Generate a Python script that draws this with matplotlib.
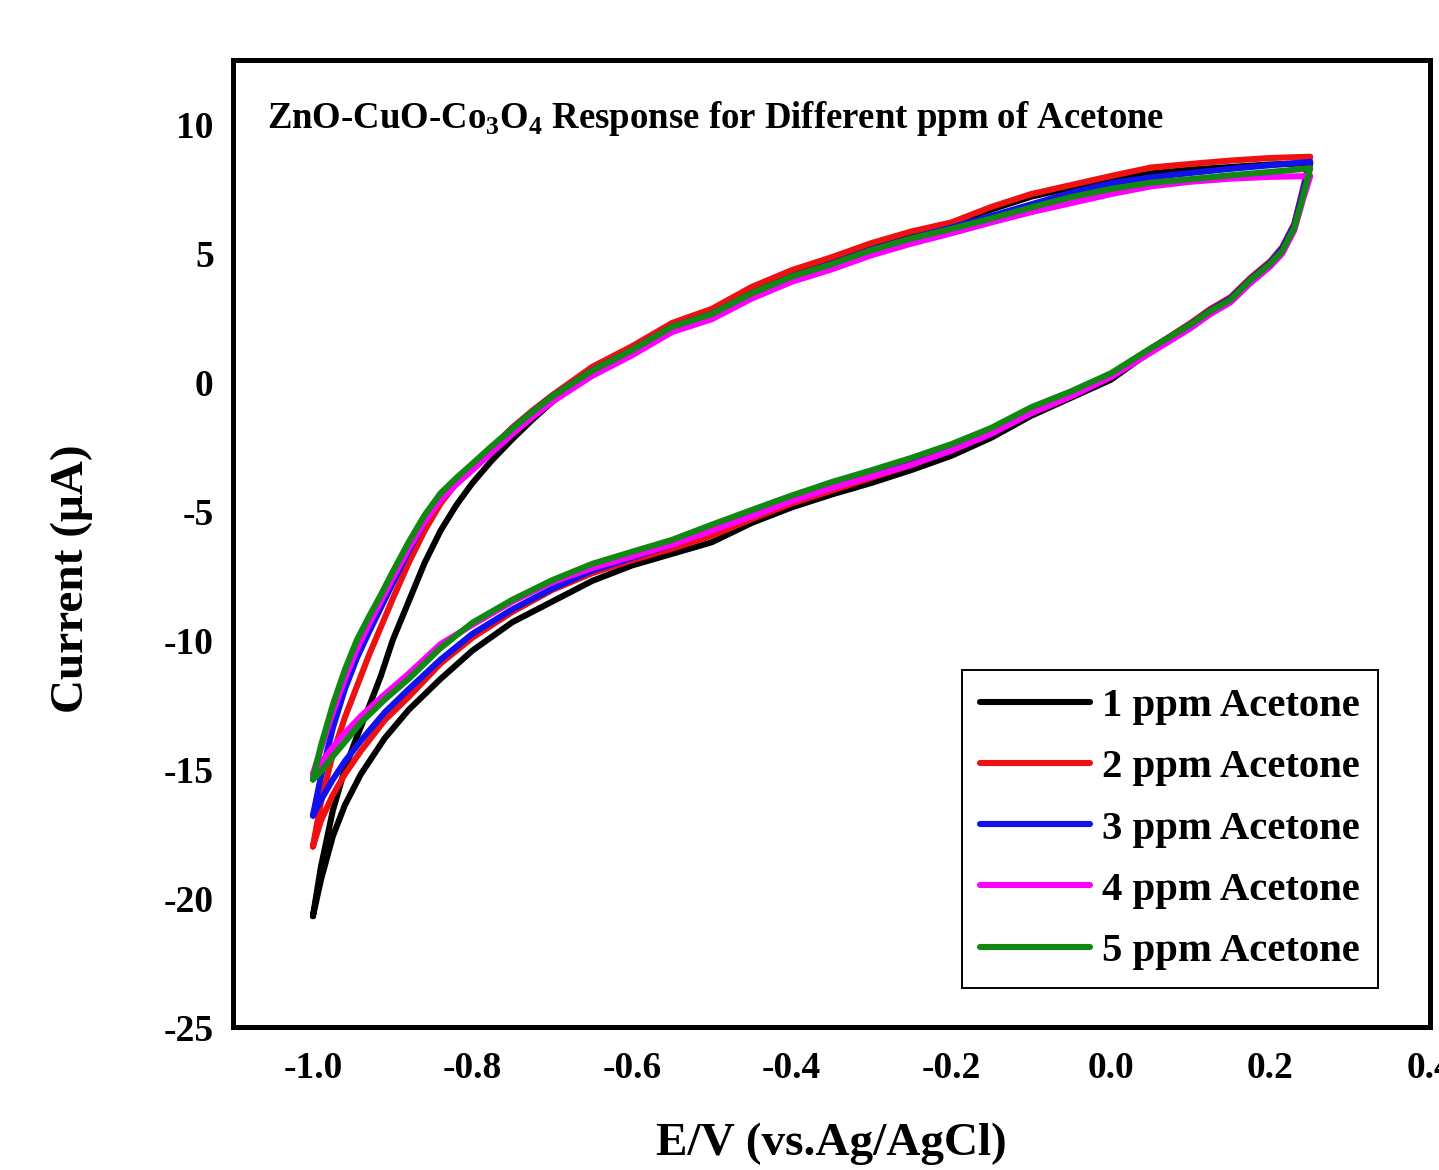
import numpy as np
import matplotlib
matplotlib.use("Agg")
import matplotlib.pyplot as plt

plt.rcParams['font.family'] = ['Liberation Serif', 'DejaVu Serif']
plt.rcParams['font.weight'] = 'bold'
plt.rcParams['axes.labelweight'] = 'bold'
plt.rcParams['mathtext.fontset'] = 'custom'
plt.rcParams['mathtext.rm'] = 'Liberation Serif:bold'
plt.rcParams['mathtext.bf'] = 'Liberation Serif:bold'

# potential grid, forward sweep (-1.0 -> 0.25 V) and reverse sweep (0.25 -> -1.0 V)
x_fwd = [-1.00, -0.99, -0.975, -0.96, -0.945, -0.93, -0.915, -0.90, -0.88, -0.86,
         -0.84, -0.82, -0.80, -0.775, -0.75, -0.725, -0.70, -0.65, -0.60, -0.55,
         -0.50, -0.45, -0.40, -0.35, -0.30, -0.25, -0.20, -0.15, -0.10, -0.05,
         0.00, 0.05, 0.10, 0.15, 0.20, 0.25]
x_rev = [0.25, 0.24, 0.23, 0.215, 0.20, 0.175, 0.15, 0.125, 0.10, 0.05,
         0.00, -0.05, -0.10, -0.15, -0.20, -0.25, -0.30, -0.35, -0.40, -0.45,
         -0.50, -0.55, -0.60, -0.65, -0.70, -0.75, -0.80, -0.84, -0.88, -0.91,
         -0.94, -0.96, -0.975, -0.99, -1.00]

# current (uA)
ppm1_fwd = [-20.7, -18.8, -16.6, -15.0, -13.75, -12.6, -11.4, -10.0, -8.5, -7.0,
            -5.75, -4.75, -3.9, -3.0, -2.2, -1.45, -0.75, 0.45, 1.35, 2.25,
            2.8, 3.65, 4.3, 4.8, 5.35, 5.8, 6.15, 6.7, 7.2, 7.55,
            7.85, 8.1, 8.25, 8.35, 8.45, 8.5]
ppm1_rev = [8.5, 7.3, 6.1, 5.2, 4.65, 3.95, 3.2, 2.75, 2.2, 1.2,
            0.1, -0.6, -1.3, -2.15, -2.85, -3.4, -3.9, -4.35, -4.85, -5.45,
            -6.2, -6.65, -7.1, -7.7, -8.5, -9.3, -10.4, -11.5, -12.7, -13.8,
            -15.2, -16.4, -17.6, -19.3, -20.7]

ppm2_fwd = [-18.0, -16.3, -14.4, -13.0, -11.8, -10.6, -9.5, -8.4, -7.0, -5.75,
            -4.7, -3.9, -3.25, -2.5, -1.75, -1.1, -0.5, 0.6, 1.4, 2.3,
            2.85, 3.7, 4.35, 4.85, 5.4, 5.85, 6.2, 6.8, 7.3, 7.65,
            8.0, 8.33, 8.47, 8.6, 8.7, 8.75]
ppm2_rev = [8.75, 7.4, 6.15, 5.25, 4.7, 4.05, 3.3, 2.85, 2.3, 1.3,
            0.3, -0.45, -1.1, -1.95, -2.6, -3.2, -3.7, -4.2, -4.7, -5.3,
            -5.95, -6.45, -6.9, -7.4, -8.05, -8.9, -9.9, -10.9, -12.2, -13.1,
            -14.3, -15.2, -16.0, -17.0, -18.0]

ppm3_fwd = [-16.8, -15.3, -13.4, -11.9, -10.7, -9.7, -8.75, -7.8, -6.55, -5.4,
            -4.45, -3.75, -3.2, -2.5, -1.8, -1.15, -0.55, 0.45, 1.25, 2.15,
            2.65, 3.45, 4.1, 4.6, 5.15, 5.6, 6.0, 6.45, 6.9, 7.35,
            7.72, 7.95, 8.12, 8.28, 8.42, 8.55]
ppm3_rev = [8.55, 7.3, 6.1, 5.2, 4.65, 4.0, 3.25, 2.8, 2.25, 1.3,
            0.3, -0.4, -1.05, -1.85, -2.5, -3.05, -3.55, -4.0, -4.5, -5.1,
            -5.7, -6.3, -6.8, -7.3, -8.0, -8.8, -9.75, -10.75, -11.9, -12.8,
            -13.9, -14.7, -15.4, -16.2, -16.8]

ppm4_fwd = [-15.2, -14.2, -12.8, -11.5, -10.35, -9.4, -8.5, -7.6, -6.45, -5.4,
            -4.55, -3.95, -3.4, -2.7, -2.0, -1.35, -0.75, 0.25, 1.05, 1.95,
            2.45, 3.25, 3.9, 4.38, 4.93, 5.38, 5.78, 6.2, 6.6, 6.95,
            7.3, 7.6, 7.78, 7.9, 7.97, 8.0]
ppm4_rev = [8.0, 7.0, 5.9, 5.0, 4.5, 3.85, 3.1, 2.65, 2.1, 1.15,
            0.2, -0.55, -1.2, -2.0, -2.65, -3.2, -3.65, -4.1, -4.6, -5.2,
            -5.75, -6.3, -6.75, -7.2, -7.75, -8.5, -9.4, -10.15, -11.3, -12.1,
            -12.95, -13.6, -14.15, -14.75, -15.2]

ppm5_fwd = [-15.4, -14.1, -12.5, -11.15, -10.0, -9.1, -8.25, -7.35, -6.2, -5.15,
            -4.3, -3.7, -3.15, -2.45, -1.8, -1.15, -0.55, 0.45, 1.25, 2.15,
            2.65, 3.45, 4.1, 4.58, 5.13, 5.58, 5.95, 6.35, 6.78, 7.18,
            7.5, 7.74, 7.88, 8.03, 8.16, 8.3]
ppm5_rev = [8.3, 7.1, 6.0, 5.1, 4.6, 3.97, 3.2, 2.77, 2.24, 1.32,
            0.35, -0.35, -0.97, -1.77, -2.4, -2.93, -3.41, -3.87, -4.39, -4.95,
            -5.52, -6.11, -6.57, -7.04, -7.67, -8.43, -9.32, -10.3, -11.5, -12.3,
            -13.2, -13.95, -14.5, -15.1, -15.4]

labels = ["1 ppm Acetone", "2 ppm Acetone", "3 ppm Acetone",
          "4 ppm Acetone", "5 ppm Acetone"]
colors = ["black", "#ee1111", "#1111ee", "#ff00ff", "#118811"]
curves = [(ppm1_fwd, ppm1_rev), (ppm2_fwd, ppm2_rev), (ppm3_fwd, ppm3_rev),
          (ppm4_fwd, ppm4_rev), (ppm5_fwd, ppm5_rev)]

fig = plt.figure(figsize=(14.39, 11.70), dpi=100)
ax = fig.add_axes([0.162, 0.1222, 0.8317, 0.8265])

x_all = np.concatenate([x_fwd, x_rev])
for (fwd, rev), lab, c in zip(curves, labels, colors):
    ax.plot(x_all, np.concatenate([fwd, rev]), color=c, lw=4.4, label=lab,
            solid_joinstyle='round', solid_capstyle='round')

ax.set_xlim(-1.1, 0.4)
ax.set_ylim(-25, 12.5)
ax.set_xticks([-1.0, -0.8, -0.6, -0.4, -0.2, 0.0, 0.2, 0.4])
ax.set_xticklabels(["-1.0", "-0.8", "-0.6", "-0.4", "-0.2", "0.0", "0.2", "0.4"])
ax.set_yticks([-25, -20, -15, -10, -5, 0, 5, 10])
ax.set_yticklabels(["-25", "-20", "-15", "-10", "-5", "0", "5", "10"])
ax.tick_params(length=0, labelsize=27)
ax.tick_params(axis='x', pad=17)
ax.tick_params(axis='y', pad=14)
for s in ax.spines.values():
    s.set_linewidth(3.6)

ax.set_xlabel("E/V (vs.Ag/AgCl)", fontsize=34)
ax.xaxis.set_label_coords(0.5, -0.099)
ax.set_ylabel("Current (\u03bcA)", fontsize=34)
ax.yaxis.set_label_coords(-0.117, 0.464)

ax.text(0.028, 0.93, r"ZnO-CuO-Co$_\mathbf{3}$O$_\mathbf{4}$ Response for Different ppm of Acetone",
        transform=ax.transAxes, fontsize=26.5, va='baseline', ha='left')

leg = ax.legend(loc='lower right', bbox_to_anchor=(0.9566, 0.0403), fontsize=29.3,
                frameon=True, fancybox=False, edgecolor='black', framealpha=1,
                handlelength=2.7, handletextpad=0.3, labelspacing=0.58,
                borderpad=0.45, borderaxespad=0)
leg.get_frame().set_linewidth(1.4)

fig.savefig("out.png", dpi=100)
